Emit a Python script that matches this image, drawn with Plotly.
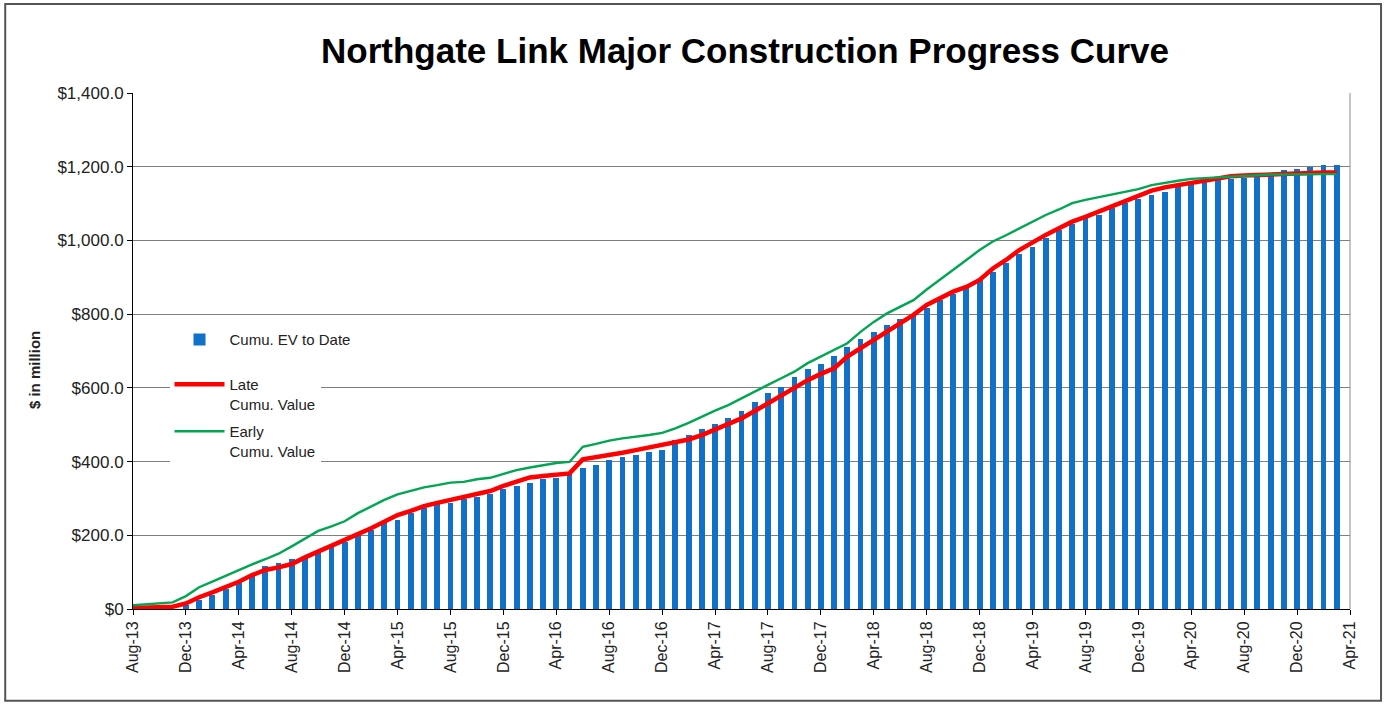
import plotly.graph_objects as go

# month index 0 = Aug-13 ... 91 = Mar-21
months = list(range(92))

tick_pos = list(range(0, 93, 4))
tick_labels = ["Aug-13", "Dec-13", "Apr-14", "Aug-14", "Dec-14", "Apr-15", "Aug-15", "Dec-15",
               "Apr-16", "Aug-16", "Dec-16", "Apr-17", "Aug-17", "Dec-17", "Apr-18", "Aug-18",
               "Dec-18", "Apr-19", "Aug-19", "Dec-19", "Apr-20", "Aug-20", "Dec-20", "Apr-21"]

y_ticks = [0, 200, 400, 600, 800, 1000, 1200, 1400]
y_labels = ["$0", "$200.0", "$400.0", "$600.0", "$800.0", "$1,000.0", "$1,200.0", "$1,400.0"]

# cumulative earned value to date ($M)
ev_to_date = [0, 0, 0, 0, 11, 24, 38, 53, 71, 90, 117, 124, 137, 144, 155, 168,
              183, 203, 214, 232, 241, 261, 275, 285, 287, 298, 303, 311, 325, 335, 343, 352,
              355, 365, 382, 391, 404, 413, 418, 425, 431, 458, 472, 488, 502, 517, 537, 562,
              585, 601, 630, 650, 665, 687, 712, 733, 752, 770, 788, 799, 816, 838, 856, 876,
              894, 915, 938, 963, 983, 1006, 1028, 1044, 1060, 1069, 1087, 1101, 1112, 1123, 1132, 1144,
              1155, 1159, 1164, 1167, 1169, 1178, 1184, 1191, 1195, 1200, 1205, 1205]

# late schedule cumulative value ($M)
late_cumu = [3, 3, 4, 6, 15, 32, 45, 59, 74, 92, 106, 113, 122, 140, 155, 171,
             187, 203, 219, 237, 255, 266, 279, 288, 296, 305, 312, 320, 334, 347, 357, 361,
             364, 368, 406, 411, 418, 424, 431, 438, 443, 451, 460, 472, 486, 502, 517, 537,
             558, 581, 599, 621, 638, 653, 685, 707, 730, 752, 775, 798, 825, 843, 861, 874,
             893, 924, 947, 974, 996, 1015, 1033, 1051, 1064, 1078, 1091, 1108, 1120, 1135, 1144, 1150,
             1157, 1162, 1170, 1174, 1176, 1178, 1180, 1181, 1182, 1183, 1184, 1184]

# early schedule cumulative value ($M)
early_cumu = [10, 12, 14, 18, 35, 59, 74, 90, 106, 121, 135, 150, 170, 190, 212, 224,
              238, 260, 279, 296, 311, 320, 330, 336, 343, 345, 352, 356, 366, 377, 384, 391,
              396, 399, 440, 448, 457, 463, 467, 472, 478, 490, 505, 522, 538, 553, 572, 590,
              608, 626, 644, 667, 685, 703, 721, 752, 779, 802, 820, 838, 867, 893, 920, 947,
              974, 997, 1014, 1033, 1051, 1069, 1084, 1101, 1110, 1117, 1123, 1132, 1139, 1150, 1157, 1162,
              1167, 1169, 1172, 1175, 1177, 1178, 1179, 1179, 1180, 1180, 1180, 1180]

FONT = "Arial, Liberation Sans, sans-serif"
TXT = "#222"


def legend_box(ytop):
    # one small legend per series so the spacing matches the original
    return dict(x=0.030, y=ytop, xanchor="left", yanchor="top", bgcolor="white",
                font=dict(family=FONT, size=15, color=TXT), itemwidth=50, valign="top")


fig = go.Figure()
fig.add_trace(go.Bar(x=months, y=ev_to_date, width=0.44, name="Cumu. EV to Date",
                     marker=dict(color="#1170C8", line=dict(width=0)), legend="legend"))
fig.add_trace(go.Scatter(x=months, y=late_cumu, mode="lines", name="Late<br>Cumu. Value",
                         line=dict(color="#FF0000", width=4.5), legend="legend2"))
fig.add_trace(go.Scatter(x=months, y=early_cumu, mode="lines", name="Early<br>Cumu. Value",
                         line=dict(color="#00A651", width=2.4), legend="legend3"))

fig.update_layout(
    width=1391, height=704,
    margin=dict(l=133, r=41, t=93, b=95),
    paper_bgcolor="white", plot_bgcolor="white",
    font=dict(family=FONT, size=15, color=TXT),
    title=dict(text="<b>Northgate Link Major Construction Progress Curve</b>",
               x=0.5356, xanchor="center", y=0.928, yanchor="middle",
               font=dict(family=FONT, size=35, color="#000")),
    showlegend=True,
    legend=legend_box(0.554),
    legend2=legend_box(0.467),
    legend3=legend_box(0.376),
    bargap=0,
)

fig.update_xaxes(range=[0, 92], tickmode="array", tickvals=tick_pos, ticktext=tick_labels,
                 tickangle=-90, ticks="outside", ticklen=5, tickcolor="#000",
                 showline=True, linecolor="#000", linewidth=1, showgrid=False, zeroline=False,
                 tickfont=dict(family=FONT, size=16, color=TXT))
fig.update_yaxes(range=[0, 1400], tickmode="array", tickvals=y_ticks, ticktext=y_labels,
                 ticks="outside", ticklen=5, tickcolor="#000",
                 showline=True, linecolor="#000", linewidth=1,
                 showgrid=True, gridcolor="#7F7F7F", gridwidth=1, zeroline=False,
                 tickfont=dict(family=FONT, size=17, color=TXT))

# y-axis title
fig.add_annotation(text="<b>$ in million</b>", xref="paper", yref="paper", x=-0.09, y=0.463,
                   textangle=-90, showarrow=False, font=dict(family=FONT, size=15, color=TXT))

# right edge of plot area
fig.add_shape(type="line", xref="paper", yref="paper", x0=1, x1=1, y0=0, y1=1,
              line=dict(color="#8C8C8C", width=1))
# outer frame
fig.add_shape(type="rect", xref="paper", yref="paper", x0=-0.105, x1=1.0255, y0=-0.178, y1=1.1725,
              line=dict(color="#555", width=2))

fig.write_html("out.html", config={"displayModeBar": False},
               post_script="document.body.style.margin='0';")
